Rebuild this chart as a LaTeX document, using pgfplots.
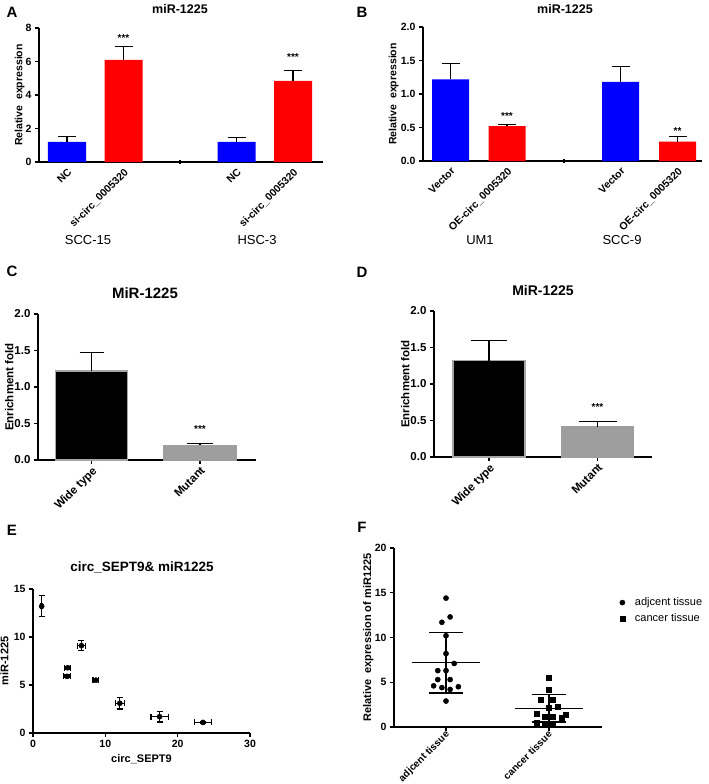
\documentclass[border=0pt]{standalone}
\usepackage{pgfplots}
\pgfplotsset{compat=1.18}
\usepackage{fontspec}
\setmainfont{Liberation Sans}
\newcommand{\fs}[1]{\fontsize{#1}{#1}\selectfont}
\pgfplotsset{
  gp/.style={scale only axis, anchor=south west, clip=false,
    axis lines*=left,
    axis line style={line width=1.2pt, black},
    tick style={line width=1.1pt, black},
    tick align=outside, major tick length=4pt,
    tick label style={font=\bfseries\fs{10.5}},
    label style={font=\bfseries\fs{10.5}},
    /pgf/number format/assume math mode=true,
  },
  yl/.style={ylabel style={at={(rel axis cs:0,0.5)}, anchor=south, yshift=#1}},
  errb/.style={error bars/.cd, y dir=plus, y explicit,
    error bar style={line width=1.2pt, black},
    error mark options={rotate=90, line width=1.2pt, draw=black, mark size=#1}},
  onedec/.style={yticklabel style={/pgf/number format/.cd, fixed, fixed zerofill, precision=1}},
}
\begin{document}
\begin{tikzpicture}
\path[use as bounding box] (0,0) rectangle (709pt,-784pt);
% ---------- letters and texts ----------
\node[font=\bfseries\fs{15}] at (12pt,-12pt) {A};
\node[font=\bfseries\fs{15}] at (362pt,-12pt) {B};
\node[font=\bfseries\fs{15}] at (12pt,-271pt) {C};
\node[font=\bfseries\fs{15}] at (362pt,-272pt) {D};
\node[font=\bfseries\fs{15}] at (12pt,-530pt) {E};
\node[font=\bfseries\fs{15}] at (362pt,-527pt) {F};
\node[font=\bfseries\fs{12.5}] at (180pt,-9pt) {miR-1225};
\node[font=\bfseries\fs{12.5}] at (565pt,-9pt) {miR-1225};
\node[font=\bfseries\fs{15}] at (145pt,-293pt) {MiR-1225};
\node[font=\bfseries\fs{14}] at (543pt,-290pt) {MiR-1225};
\node[font=\bfseries\fs{13.5}] at (142pt,-567pt) {circ\_SEPT9\& miR1225};
\node[font=\fs{13}] at (88pt,-240pt) {SCC-15};
\node[font=\fs{13}] at (257pt,-240pt) {HSC-3};
\node[font=\fs{13}] at (480pt,-240pt) {UM1};
\node[font=\fs{13}] at (622pt,-240pt) {SCC-9};
% ---------- A ----------
\begin{axis}[gp, yl=11pt, at={(39pt,-162pt)}, width=284pt, height=134pt,
  xmin=39, xmax=323, ymin=0, ymax=8, ytick={0,2,4,6,8},
  xtick={67,123.5,236.5,293},
  xticklabels={NC,si-circ\_0005320,NC,si-circ\_0005320},
  xtick style={draw=none},
  extra x ticks={180}, extra x tick labels={},
  extra x tick style={xtick style={draw=black, line width=1.1pt}, tick align=center},
  xticklabel style={rotate=45, anchor=north east, inner sep=1pt},
  ylabel={Relative\ \ expression}]
\addplot[ybar, bar width=38, bar shift=0pt, fill=blue, draw=none, errb=9pt]
  coordinates {(67,1.2) +- (0,0.3) (236.5,1.2) +- (0,0.25)};
\addplot[ybar, bar width=38, bar shift=0pt, fill=red, draw=none, errb=9pt]
  coordinates {(123.5,6.1) +- (0,0.8) (293,4.85) +- (0,0.6)};
\node[font=\bfseries\fs{10}] at (axis cs:123.5,7.4) {***};
\node[font=\bfseries\fs{10}] at (axis cs:293,6.27) {***};
\end{axis}
% ---------- B ----------
\begin{axis}[gp, onedec, yl=21pt, at={(423pt,-161pt)}, width=279pt, height=134pt,
  xmin=423, xmax=702, ymin=0, ymax=2, ytick={0,0.5,1,1.5,2},
  xtick={450.5,507,620.5,677.5},
  xticklabels={Vector,OE-circ\_0005320,Vector,OE-circ\_0005320},
  xtick style={draw=none},
  extra x ticks={564}, extra x tick labels={},
  extra x tick style={xtick style={draw=black, line width=1.1pt}, tick align=center},
  xticklabel style={rotate=45, anchor=north east, inner sep=1pt},
  ylabel={Relative\ \ expression}]
\addplot[ybar, bar width=37, bar shift=0pt, fill=blue, draw=none, errb=9pt]
  coordinates {(450.5,1.22) +- (0,0.23) (620.5,1.18) +- (0,0.23)};
\addplot[ybar, bar width=37, bar shift=0pt, fill=red, draw=none, errb=9pt]
  coordinates {(507,0.52) +- (0,0.03) (677.5,0.29) +- (0,0.08)};
\node[font=\bfseries\fs{10}] at (axis cs:507,0.67) {***};
\node[font=\bfseries\fs{10}] at (axis cs:677.5,0.44) {**};
\end{axis}
% ---------- C ----------
\begin{axis}[gp, onedec, yl=21pt, at={(38pt,-460pt)}, width=218pt, height=146pt,
  xmin=38, xmax=256, ymin=0, ymax=2, ytick={0,0.5,1,1.5,2},
  xtick={91.5,200}, xticklabels={Wide type,Mutant},
  xticklabel style={rotate=45, anchor=north east, inner sep=1pt},
  ylabel={Enrichment fold},
  tick label style={font=\bfseries\fs{11.5}},
  label style={font=\bfseries\fs{11.5}}]
\addplot[ybar, bar width=72, bar shift=0pt, fill=black, draw=black!35, line width=1.5pt, errb=12pt]
  coordinates {(91.5,1.22) +- (0,0.25)};
\addplot[ybar, bar width=72, bar shift=0pt, fill=black!38, draw=black!38, line width=1.5pt, errb=13pt]
  coordinates {(200,0.2) +- (0,0.03)};
\node[font=\bfseries\fs{10}] at (axis cs:200,0.42) {***};
\end{axis}
% ---------- D ----------
\begin{axis}[gp, onedec, yl=21pt, at={(434pt,-457pt)}, width=218pt, height=146pt,
  xmin=434, xmax=652, ymin=0, ymax=2, ytick={0,0.5,1,1.5,2},
  xtick={489,597.5}, xticklabels={Wide type,Mutant},
  xticklabel style={rotate=45, anchor=north east, inner sep=1pt},
  ylabel={Enrichment fold},
  tick label style={font=\bfseries\fs{11.5}},
  label style={font=\bfseries\fs{11.5}}]
\addplot[ybar, bar width=72, bar shift=0pt, fill=black, draw=black!35, line width=1.5pt, errb=18pt]
  coordinates {(489,1.32) +- (0,0.28)};
\addplot[ybar, bar width=72, bar shift=0pt, fill=black!38, draw=black!38, line width=1.5pt, errb=19pt]
  coordinates {(597.5,0.41) +- (0,0.08)};
\node[font=\bfseries\fs{10}] at (axis cs:597.5,0.68) {***};
\end{axis}
% ---------- E ----------
\begin{axis}[gp, yl=21pt, at={(33pt,-733pt)}, width=217pt, height=144pt,
  xmin=0, xmax=30, ymin=0, ymax=15, xtick={0,10,20,30}, ytick={0,5,10,15},
  xlabel={circ\_SEPT9}, ylabel={miR-1225},
  label style={font=\bfseries\fs{11}}]
\addplot[only marks, mark=*, mark size=2.6pt, black,
  error bars/.cd, x dir=both, x explicit, y dir=both, y explicit,
  error bar style={line width=1.2pt, black},
  error mark options={rotate=90, line width=1.2pt, draw=black, mark size=3pt}]
  coordinates {
  (1.2,13.2) +- (0.1,1.1)
  (4.8,6.8) +- (0.4,0.15)
  (4.7,5.9) +- (0.5,0.15)
  (6.7,9.1) +- (0.6,0.5)
  (8.7,5.5) +- (0.4,0.1)
  (12.0,3.1) +- (0.6,0.6)
  (17.5,1.7) +- (1.2,0.55)
  (23.5,1.1) +- (1.2,0.1)
  };
\end{axis}
% ---------- F ----------
\begin{axis}[gp, yl=17pt, at={(394pt,-727pt)}, width=208pt, height=179pt,
  xmin=-0.505, xmax=1.515, ymin=0, ymax=20, ytick={0,5,10,15,20},
  xtick={0,1}, xticklabels={adjcent tissue,cancer tissue},
  xticklabel style={rotate=45, anchor=north east, inner sep=0pt, yshift=2pt, font=\bfseries\fs{10}},
  ylabel={Relative\ \ expression of miR1225},
  label style={font=\bfseries\fs{11}},
  legend style={draw=none, fill=none, at={(1.07,0.745)}, anchor=north west,
    font=\fs{11}, row sep=2.5pt, column sep=8pt},
  legend cell align=left]
\addplot[only marks, mark=*, mark size=2.6pt, black] coordinates {
  (0,14.4) (-0.04,11.7) (0.04,12.3) (0,10.2) (0,8.2) (0.08,7.1)
  (-0.08,6.3) (0,6.3) (-0.08,5.3) (0.04,5.3) (-0.12,4.6) (-0.04,4.4)
  (0.04,4.2) (0.12,4.5) (0,2.9)};
\addlegendentry{adjcent tissue}
\addplot[only marks, mark=square*, mark size=2.5pt, black] coordinates {
  (1,5.5) (1,4.2) (0.92,3.1) (1.04,3.1) (1,2.2) (1.08,2.3)
  (0.88,1.5) (0.96,1.2) (1.04,1.2) (1.16,1.4) (1.12,1.0)
  (0.88,0.5) (0.96,0.3) (1.04,0.3) (1,0.3)};
\addlegendentry{cancer tissue}
\addplot[forget plot, line width=1.2pt, black] coordinates {(-0.33,7.2) (0.33,7.2)};
\addplot[forget plot, line width=1.2pt, black] coordinates {(0.67,2.1) (1.33,2.1)};
\addplot[forget plot, black, mark=none,
  error bars/.cd, y dir=both, y explicit,
  error bar style={line width=1.6pt, black},
  error mark options={rotate=90, line width=1.2pt, draw=black, mark size=17pt}]
  coordinates {(0,7.2) +- (0,3.4)};
\addplot[forget plot, black, mark=none,
  error bars/.cd, y dir=both, y explicit,
  error bar style={line width=1.6pt, black},
  error mark options={rotate=90, line width=1.2pt, draw=black, mark size=17pt}]
  coordinates {(1,2.1) +- (0,1.55)};
\end{axis}
\end{tikzpicture}
\end{document}
